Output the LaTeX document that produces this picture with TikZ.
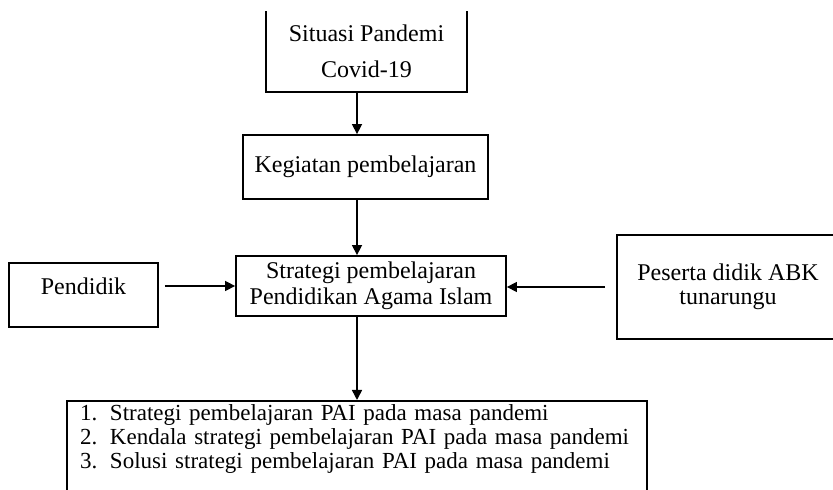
\documentclass[tikz,border=0pt]{standalone}
\usepackage{fontspec}
\setmainfont{Liberation Serif}
\usepackage{tikz}
\usetikzlibrary{arrows.meta, positioning}

\begin{document}
\begin{tikzpicture}[x=0.5pt, y=-0.5pt,
    box/.style={draw, line width=0.9pt, align=center, inner sep=2pt,
        font=\fontsize{12}{12}\selectfont},
    arr/.style={-{Triangle[length=5pt,width=5pt]}, line width=0.75pt}]
    \useasboundingbox (0,0) rectangle (833,490);
    % boxes
    \node[box, draw=none, minimum width=99.5pt, minimum height=39.5pt] (sit) at (366.5,51.5)
        {Situasi Pandemi\\[6pt]Covid-19};
    \draw[line width=0.9pt] (sit.north west) -- (sit.south west) -- (sit.south east) -- (sit.north east);
    \node[box, minimum width=122.5pt, minimum height=32pt] (keg) at (365.5,167) {Kegiatan pembelajaran};
    \node[box, minimum width=135pt, minimum height=30pt,
        font=\fontsize{12}{13}\selectfont] (str) at (371,286)
        {Strategi pembelajaran\\Pendidikan Agama Islam};
    \node[box, minimum width=74.5pt, minimum height=32pt, text depth=9pt] (pend) at (83.5,295) {Pendidik};
    \node[box, minimum width=111pt, minimum height=52pt] (pes) at (728,287) {Peserta didik ABK\\tunarungu};
    \node[box, anchor=north, minimum width=290pt, text width=277pt, align=left,
        inner xsep=6.5pt, inner ysep=2pt, text depth=40pt,
        font=\fontsize{11.5}{11.8}\selectfont] (list) at (357,400)
        {\makebox[15pt][l]{1.}Strategi pembelajaran PAI pada masa pandemi\\
         \makebox[15pt][l]{2.}Kendala strategi pembelajaran PAI pada masa pandemi\\
         \makebox[15pt][l]{3.}Solusi strategi pembelajaran PAI pada masa pandemi};
    % arrows
    \draw[arr] (sit.south -| list.north) -- (keg.north -| list.north);
    \draw[arr] (keg.south -| list.north) -- (str.north -| list.north);
    \draw[arr] (str.south -| list.north) -- (list.north);
    \draw[arr] ([xshift=3pt]pend.east |- str.west) -- (str.west);
    \draw[arr] ([xshift=-5.5pt]pes.west) -- (pes.west -| str.east);
\end{tikzpicture}
\end{document}
